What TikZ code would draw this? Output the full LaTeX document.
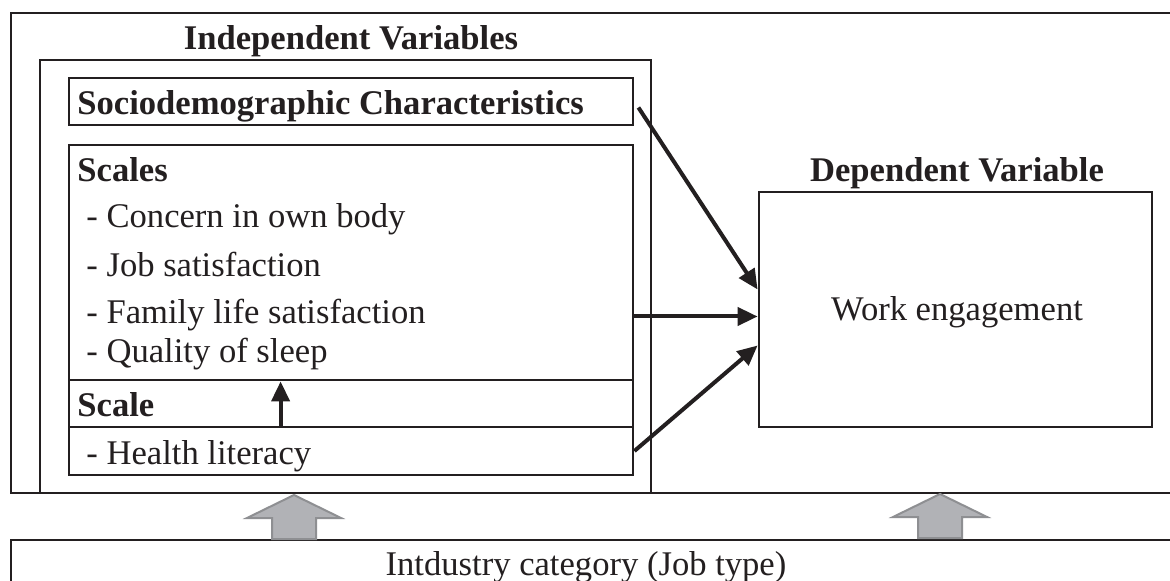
\documentclass[tikz,border=0pt]{standalone}
\usepackage{fontspec}
\setmainfont{Liberation Serif}
\usetikzlibrary{arrows.meta, positioning}
\definecolor{ink}{HTML}{231F20}
\definecolor{upgray}{HTML}{B1B2B6}
\definecolor{upline}{HTML}{8E8F92}

\begin{document}
\begin{tikzpicture}[x=0.5pt, y=-0.5pt,
    box/.style={draw=ink, line width=1.4pt, inner sep=0pt},
    frame/.style={draw=ink, line width=1pt, inner sep=0pt},
    head/.style={font=\fontsize{17.3}{20}\selectfont\bfseries, text=ink, inner sep=0pt},
    item/.style={font=\fontsize{17.3}{20}\selectfont, text=ink, inner sep=0pt},
    arr/.style={draw=ink, line width=2pt, -{Triangle[length=10pt, width=9pt]}},
    grayup/.pic={
      \filldraw[fill=upgray, draw=upline, line width=1pt]
        (-22,44) -- (-22,23) -- (-47,23) -- (0,0) -- (47,23) -- (22,23) -- (22,44) -- cycle;
    }]
      \useasboundingbox (0,0) rectangle (1170,581);
      \clip (0,0) rectangle (1170,581);
      \fill[white] (0,0) rectangle (1170,581);

      % Frames
      \node (frame) [frame, minimum width=600pt, minimum height=240pt] at (611,253) {};
      \node (indep) [frame, minimum width=305.5pt, minimum height=216.5pt] at (345.5,276.5) {};
      \node (job) [frame, minimum width=600pt, minimum height=40pt] at (611,580) {};

      % Boxes
      \node (socio) [box, minimum width=282pt, minimum height=23.5pt] at (351,101.5) {};
      \node (scales) [box, minimum width=282pt, minimum height=117.5pt] at (351,262.5) {};
      \node (scalebox) [box, minimum width=282pt, minimum height=23.5pt] at (351,403.5) {};
      \node (health) [box, minimum width=282pt, minimum height=24pt] at (351,451) {};
      \node (dep) [box, minimum width=196.5pt, minimum height=117.5pt] at (955.5,309.5) {};

      % Texts
      \node (indeptitle) [head, anchor=base] at (351,50) {Independent Variables};
      \node (sociotext) [head, anchor=base west] at (77,115) {Sociodemographic Characteristics};
      \node (scalestitle) [head, anchor=base west] at (77,182) {Scales};
      \node (concern) [item, anchor=base west] at (86,228) {- Concern in own body};
      \node (jobsat) [item, anchor=base west] at (86,277) {- Job satisfaction};
      \node (family) [item, anchor=base west] at (86,324) {- Family life satisfaction};
      \node (sleep) [item, anchor=base west] at (86,363) {- Quality of sleep};
      \node (scaletitle) [head, anchor=base west] at (77,417) {Scale};
      \node (literacy) [item, anchor=base west] at (86,465) {- Health literacy};
      \node (deptitle) [head, anchor=base] at (957,182) {Dependent Variable};
      \node (work) [item, anchor=base] at (957,321) {Work engagement};
      \node (jobtext) [item, anchor=base] at (586,575) {Intdustry category (Job type)};

      % Edges
      \draw[arr] ([xshift=2pt, yshift=-3pt]socio.east) -- ([yshift=10pt]dep.west);
      \draw[arr] ([yshift=-27pt]scales.east) -- ([yshift=-27pt]scales.east -| dep.west);
      \draw[arr] (health.east) -- ([yshift=-18pt]dep.west);
      \draw[arr] ([xshift=106.5pt]health.north west) -- ([xshift=106.5pt]scales.south west);

      % Job type arrows
      \pic (upleft) at (294,495) {grayup};
      \pic (upright) at (940,494) {grayup};

    \end{tikzpicture}
\end{document}
